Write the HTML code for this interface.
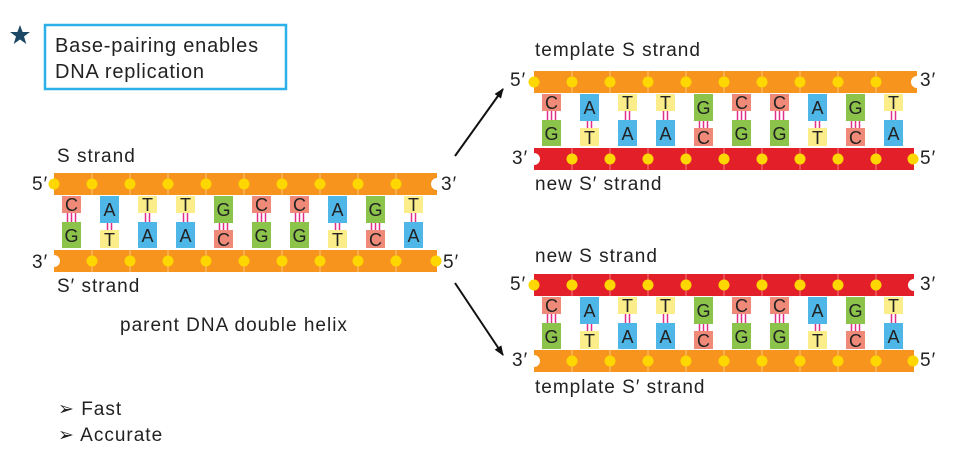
<!DOCTYPE html>
<html><head><meta charset="utf-8"><style>
html,body{margin:0;padding:0;background:#fff;}
svg{display:block;font-family:"Liberation Sans",sans-serif;}
.l{font-size:19px;fill:#222;letter-spacing:1px;}
.b{font-size:18px;fill:#222;text-anchor:middle;}
.pk{stroke:#e0308a;stroke-width:1.5;fill:none;}
</style></head><body>
<svg width="976" height="450" viewBox="0 0 976 450" xmlns="http://www.w3.org/2000/svg">
<defs>
<marker id="ar" markerWidth="10" markerHeight="8" refX="9" refY="4" orient="auto" markerUnits="userSpaceOnUse"><path d="M0,0 L10,4 L0,8 z" fill="#111"/></marker>
</defs>
<polygon points="20,25 22.6,32 30,32 24,36.5 26.3,44 20,39.5 13.7,44 16,36.5 10,32 17.4,32" fill="#1b4965"/>
<rect x="45" y="25" width="241" height="64" fill="none" stroke="#2bb0e8" stroke-width="2.5"/>
<text x="55" y="52" style="font-size:20px;fill:#222;letter-spacing:0.8px">Base-pairing enables</text>
<text x="55" y="78" style="font-size:20px;fill:#222;letter-spacing:0.8px">DNA replication</text>

<text class="l" x="57" y="162">S strand</text>
<text class="l" x="32" y="190">5′</text><text class="l" x="441" y="190">3′</text>
<text class="l" x="32" y="268">3′</text><text class="l" x="443" y="268">5′</text>
<text class="l" x="57" y="292">S′ strand</text>
<text class="l" x="120" y="331">parent DNA double helix</text>

<text class="l" x="535" y="56">template S strand</text>
<text class="l" x="510" y="86">5′</text><text class="l" x="920" y="86">3′</text>
<text class="l" x="512" y="164">3′</text><text class="l" x="920" y="164">5′</text>
<text class="l" x="535" y="190">new S′ strand</text>

<text class="l" x="535" y="262">new S strand</text>
<text class="l" x="510" y="290">5′</text><text class="l" x="920" y="290">3′</text>
<text class="l" x="512" y="366">3′</text><text class="l" x="920" y="366">5′</text>
<text class="l" x="535" y="393">template S′ strand</text>

<text class="l" x="58" y="415">➢ Fast</text>
<text class="l" x="58" y="441">➢ Accurate</text>

<line x1="455" y1="156" x2="503" y2="89" stroke="#111" stroke-width="2" marker-end="url(#ar)"/>
<line x1="455" y1="283" x2="503" y2="355" stroke="#111" stroke-width="2" marker-end="url(#ar)"/>

<!-- helix 1 -->
<g transform="translate(54,173)">
<g fill="#f7941d"><path d="M0,0 H383 V5 A6,6 0 0 0 383,17 V22 H0 Z"/></g>
<g fill="#f7941d"><path d="M0,77 H383 V99 H0 V94 A6,6 0 0 0 0,82 Z"/></g>
<g stroke="#fbc47a" stroke-width="1"><line x1="38" y1="0" x2="38" y2="22"/><line x1="76" y1="0" x2="76" y2="22"/><line x1="114" y1="0" x2="114" y2="22"/><line x1="152" y1="0" x2="152" y2="22"/><line x1="190" y1="0" x2="190" y2="22"/><line x1="228" y1="0" x2="228" y2="22"/><line x1="266" y1="0" x2="266" y2="22"/><line x1="304" y1="0" x2="304" y2="22"/><line x1="342" y1="0" x2="342" y2="22"/>
<line x1="38" y1="77" x2="38" y2="99"/><line x1="76" y1="77" x2="76" y2="99"/><line x1="114" y1="77" x2="114" y2="99"/><line x1="152" y1="77" x2="152" y2="99"/><line x1="190" y1="77" x2="190" y2="99"/><line x1="228" y1="77" x2="228" y2="99"/><line x1="266" y1="77" x2="266" y2="99"/><line x1="304" y1="77" x2="304" y2="99"/><line x1="342" y1="77" x2="342" y2="99"/></g>
<g fill="#ffd700"><circle cx="0" cy="11" r="5.5"/><circle cx="38" cy="11" r="5.5"/><circle cx="76" cy="11" r="5.5"/><circle cx="114" cy="11" r="5.5"/><circle cx="152" cy="11" r="5.5"/><circle cx="190" cy="11" r="5.5"/><circle cx="228" cy="11" r="5.5"/><circle cx="266" cy="11" r="5.5"/><circle cx="304" cy="11" r="5.5"/><circle cx="342" cy="11" r="5.5"/>
<circle cx="38" cy="88" r="5.5"/><circle cx="76" cy="88" r="5.5"/><circle cx="114" cy="88" r="5.5"/><circle cx="152" cy="88" r="5.5"/><circle cx="190" cy="88" r="5.5"/><circle cx="228" cy="88" r="5.5"/><circle cx="266" cy="88" r="5.5"/><circle cx="304" cy="88" r="5.5"/><circle cx="342" cy="88" r="5.5"/><circle cx="382" cy="88" r="5.5"/></g>
<path class="pk" d="M13.5,40V49M17.5,40V49M21.5,40V49 M53.5,50V57M57.5,50V57 M91.5,40V49M95.5,40V49 M129.5,40V49M133.5,40V49 M165.5,50V57M169.5,50V57M173.5,50V57 M203.5,40V49M207.5,40V49M211.5,40V49 M241.5,40V49M245.5,40V49M249.5,40V49 M281.5,50V57M285.5,50V57 M317.5,50V57M321.5,50V57M325.5,50V57 M357.5,40V49M361.5,40V49"/>
<rect x="8" y="23" width="19" height="17" fill="#f08a78"/><rect x="46" y="23" width="19" height="27" fill="#4fb6e8"/><rect x="84" y="23" width="19" height="17" fill="#fbee8a"/><rect x="122" y="23" width="19" height="17" fill="#fbee8a"/><rect x="160" y="23" width="19" height="27" fill="#8cc34a"/><rect x="198" y="23" width="19" height="17" fill="#f08a78"/><rect x="236" y="23" width="19" height="17" fill="#f08a78"/><rect x="274" y="23" width="19" height="27" fill="#4fb6e8"/><rect x="312" y="23" width="19" height="27" fill="#8cc34a"/><rect x="350" y="23" width="19" height="17" fill="#fbee8a"/>
<rect x="8" y="49" width="19" height="26" fill="#8cc34a"/><rect x="46" y="57" width="19" height="18" fill="#fbee8a"/><rect x="84" y="49" width="19" height="26" fill="#4fb6e8"/><rect x="122" y="49" width="19" height="26" fill="#4fb6e8"/><rect x="160" y="57" width="19" height="18" fill="#f08a78"/><rect x="198" y="49" width="19" height="26" fill="#8cc34a"/><rect x="236" y="49" width="19" height="26" fill="#8cc34a"/><rect x="274" y="57" width="19" height="18" fill="#fbee8a"/><rect x="312" y="57" width="19" height="18" fill="#f08a78"/><rect x="350" y="49" width="19" height="26" fill="#4fb6e8"/>
<text class="b" x="17.5" y="38">C</text><text class="b" x="55.5" y="43">A</text><text class="b" x="93.5" y="38">T</text><text class="b" x="131.5" y="38">T</text><text class="b" x="169.5" y="43">G</text><text class="b" x="207.5" y="38">C</text><text class="b" x="245.5" y="38">C</text><text class="b" x="283.5" y="43">A</text><text class="b" x="321.5" y="43">G</text><text class="b" x="359.5" y="38">T</text>
<text class="b" x="17.5" y="69">G</text><text class="b" x="55.5" y="73">T</text><text class="b" x="93.5" y="69">A</text><text class="b" x="131.5" y="69">A</text><text class="b" x="169.5" y="73">C</text><text class="b" x="207.5" y="69">G</text><text class="b" x="245.5" y="69">G</text><text class="b" x="283.5" y="73">T</text><text class="b" x="321.5" y="73">C</text><text class="b" x="359.5" y="69">A</text>
</g>

<!-- helix 2 -->
<g transform="translate(534,71)">
<g fill="#f7941d"><path d="M0,0 H383 V5 A6,6 0 0 0 383,17 V22 H0 Z"/></g>
<g fill="#e3202a"><path d="M0,77 H380 V99 H0 V94 A6,6 0 0 0 0,82 Z"/></g>
<g stroke="#fbc47a" stroke-width="1"><line x1="38" y1="0" x2="38" y2="22"/><line x1="76" y1="0" x2="76" y2="22"/><line x1="114" y1="0" x2="114" y2="22"/><line x1="152" y1="0" x2="152" y2="22"/><line x1="190" y1="0" x2="190" y2="22"/><line x1="228" y1="0" x2="228" y2="22"/><line x1="266" y1="0" x2="266" y2="22"/><line x1="304" y1="0" x2="304" y2="22"/><line x1="342" y1="0" x2="342" y2="22"/></g>
<g stroke="#f07a80" stroke-width="1"><line x1="38" y1="77" x2="38" y2="99"/><line x1="76" y1="77" x2="76" y2="99"/><line x1="114" y1="77" x2="114" y2="99"/><line x1="152" y1="77" x2="152" y2="99"/><line x1="190" y1="77" x2="190" y2="99"/><line x1="228" y1="77" x2="228" y2="99"/><line x1="266" y1="77" x2="266" y2="99"/><line x1="304" y1="77" x2="304" y2="99"/><line x1="342" y1="77" x2="342" y2="99"/></g>
<g fill="#ffd700"><circle cx="0" cy="11" r="5.5"/><circle cx="38" cy="11" r="5.5"/><circle cx="76" cy="11" r="5.5"/><circle cx="114" cy="11" r="5.5"/><circle cx="152" cy="11" r="5.5"/><circle cx="190" cy="11" r="5.5"/><circle cx="228" cy="11" r="5.5"/><circle cx="266" cy="11" r="5.5"/><circle cx="304" cy="11" r="5.5"/><circle cx="342" cy="11" r="5.5"/>
<circle cx="38" cy="88" r="5.5"/><circle cx="76" cy="88" r="5.5"/><circle cx="114" cy="88" r="5.5"/><circle cx="152" cy="88" r="5.5"/><circle cx="190" cy="88" r="5.5"/><circle cx="228" cy="88" r="5.5"/><circle cx="266" cy="88" r="5.5"/><circle cx="304" cy="88" r="5.5"/><circle cx="342" cy="88" r="5.5"/><circle cx="379" cy="88" r="5.5"/></g>
<path class="pk" d="M13.5,40V49M17.5,40V49M21.5,40V49 M53.5,50V57M57.5,50V57 M91.5,40V49M95.5,40V49 M129.5,40V49M133.5,40V49 M165.5,50V57M169.5,50V57M173.5,50V57 M203.5,40V49M207.5,40V49M211.5,40V49 M241.5,40V49M245.5,40V49M249.5,40V49 M281.5,50V57M285.5,50V57 M317.5,50V57M321.5,50V57M325.5,50V57 M357.5,40V49M361.5,40V49"/>
<rect x="8" y="23" width="19" height="17" fill="#f08a78"/><rect x="46" y="23" width="19" height="27" fill="#4fb6e8"/><rect x="84" y="23" width="19" height="17" fill="#fbee8a"/><rect x="122" y="23" width="19" height="17" fill="#fbee8a"/><rect x="160" y="23" width="19" height="27" fill="#8cc34a"/><rect x="198" y="23" width="19" height="17" fill="#f08a78"/><rect x="236" y="23" width="19" height="17" fill="#f08a78"/><rect x="274" y="23" width="19" height="27" fill="#4fb6e8"/><rect x="312" y="23" width="19" height="27" fill="#8cc34a"/><rect x="350" y="23" width="19" height="17" fill="#fbee8a"/>
<rect x="8" y="49" width="19" height="26" fill="#8cc34a"/><rect x="46" y="57" width="19" height="18" fill="#fbee8a"/><rect x="84" y="49" width="19" height="26" fill="#4fb6e8"/><rect x="122" y="49" width="19" height="26" fill="#4fb6e8"/><rect x="160" y="57" width="19" height="18" fill="#f08a78"/><rect x="198" y="49" width="19" height="26" fill="#8cc34a"/><rect x="236" y="49" width="19" height="26" fill="#8cc34a"/><rect x="274" y="57" width="19" height="18" fill="#fbee8a"/><rect x="312" y="57" width="19" height="18" fill="#f08a78"/><rect x="350" y="49" width="19" height="26" fill="#4fb6e8"/>
<text class="b" x="17.5" y="38">C</text><text class="b" x="55.5" y="43">A</text><text class="b" x="93.5" y="38">T</text><text class="b" x="131.5" y="38">T</text><text class="b" x="169.5" y="43">G</text><text class="b" x="207.5" y="38">C</text><text class="b" x="245.5" y="38">C</text><text class="b" x="283.5" y="43">A</text><text class="b" x="321.5" y="43">G</text><text class="b" x="359.5" y="38">T</text>
<text class="b" x="17.5" y="69">G</text><text class="b" x="55.5" y="73">T</text><text class="b" x="93.5" y="69">A</text><text class="b" x="131.5" y="69">A</text><text class="b" x="169.5" y="73">C</text><text class="b" x="207.5" y="69">G</text><text class="b" x="245.5" y="69">G</text><text class="b" x="283.5" y="73">T</text><text class="b" x="321.5" y="73">C</text><text class="b" x="359.5" y="69">A</text>
</g>

<!-- helix 3 -->
<g transform="translate(534,274)">
<g fill="#e3202a"><path d="M0,0 H380 V5 A6,6 0 0 0 380,17 V22 H0 Z"/></g>
<g fill="#f7941d"><path d="M0,76 H380 V98 H0 V93 A6,6 0 0 0 0,81 Z"/></g>
<g stroke="#f07a80" stroke-width="1"><line x1="38" y1="0" x2="38" y2="22"/><line x1="76" y1="0" x2="76" y2="22"/><line x1="114" y1="0" x2="114" y2="22"/><line x1="152" y1="0" x2="152" y2="22"/><line x1="190" y1="0" x2="190" y2="22"/><line x1="228" y1="0" x2="228" y2="22"/><line x1="266" y1="0" x2="266" y2="22"/><line x1="304" y1="0" x2="304" y2="22"/><line x1="342" y1="0" x2="342" y2="22"/></g>
<g stroke="#fbc47a" stroke-width="1"><line x1="38" y1="76" x2="38" y2="98"/><line x1="76" y1="76" x2="76" y2="98"/><line x1="114" y1="76" x2="114" y2="98"/><line x1="152" y1="76" x2="152" y2="98"/><line x1="190" y1="76" x2="190" y2="98"/><line x1="228" y1="76" x2="228" y2="98"/><line x1="266" y1="76" x2="266" y2="98"/><line x1="304" y1="76" x2="304" y2="98"/><line x1="342" y1="76" x2="342" y2="98"/></g>
<g fill="#ffd700"><circle cx="0" cy="11" r="5.5"/><circle cx="38" cy="11" r="5.5"/><circle cx="76" cy="11" r="5.5"/><circle cx="114" cy="11" r="5.5"/><circle cx="152" cy="11" r="5.5"/><circle cx="190" cy="11" r="5.5"/><circle cx="228" cy="11" r="5.5"/><circle cx="266" cy="11" r="5.5"/><circle cx="304" cy="11" r="5.5"/><circle cx="342" cy="11" r="5.5"/>
<circle cx="38" cy="87" r="5.5"/><circle cx="76" cy="87" r="5.5"/><circle cx="114" cy="87" r="5.5"/><circle cx="152" cy="87" r="5.5"/><circle cx="190" cy="87" r="5.5"/><circle cx="228" cy="87" r="5.5"/><circle cx="266" cy="87" r="5.5"/><circle cx="304" cy="87" r="5.5"/><circle cx="342" cy="87" r="5.5"/><circle cx="379" cy="87" r="5.5"/></g>
<path class="pk" d="M13.5,40V49M17.5,40V49M21.5,40V49 M53.5,50V57M57.5,50V57 M91.5,40V49M95.5,40V49 M129.5,40V49M133.5,40V49 M165.5,50V57M169.5,50V57M173.5,50V57 M203.5,40V49M207.5,40V49M211.5,40V49 M241.5,40V49M245.5,40V49M249.5,40V49 M281.5,50V57M285.5,50V57 M317.5,50V57M321.5,50V57M325.5,50V57 M357.5,40V49M361.5,40V49"/>
<rect x="8" y="23" width="19" height="17" fill="#f08a78"/><rect x="46" y="23" width="19" height="27" fill="#4fb6e8"/><rect x="84" y="23" width="19" height="17" fill="#fbee8a"/><rect x="122" y="23" width="19" height="17" fill="#fbee8a"/><rect x="160" y="23" width="19" height="27" fill="#8cc34a"/><rect x="198" y="23" width="19" height="17" fill="#f08a78"/><rect x="236" y="23" width="19" height="17" fill="#f08a78"/><rect x="274" y="23" width="19" height="27" fill="#4fb6e8"/><rect x="312" y="23" width="19" height="27" fill="#8cc34a"/><rect x="350" y="23" width="19" height="17" fill="#fbee8a"/>
<rect x="8" y="49" width="19" height="26" fill="#8cc34a"/><rect x="46" y="57" width="19" height="18" fill="#fbee8a"/><rect x="84" y="49" width="19" height="26" fill="#4fb6e8"/><rect x="122" y="49" width="19" height="26" fill="#4fb6e8"/><rect x="160" y="57" width="19" height="18" fill="#f08a78"/><rect x="198" y="49" width="19" height="26" fill="#8cc34a"/><rect x="236" y="49" width="19" height="26" fill="#8cc34a"/><rect x="274" y="57" width="19" height="18" fill="#fbee8a"/><rect x="312" y="57" width="19" height="18" fill="#f08a78"/><rect x="350" y="49" width="19" height="26" fill="#4fb6e8"/>
<text class="b" x="17.5" y="38">C</text><text class="b" x="55.5" y="43">A</text><text class="b" x="93.5" y="38">T</text><text class="b" x="131.5" y="38">T</text><text class="b" x="169.5" y="43">G</text><text class="b" x="207.5" y="38">C</text><text class="b" x="245.5" y="38">C</text><text class="b" x="283.5" y="43">A</text><text class="b" x="321.5" y="43">G</text><text class="b" x="359.5" y="38">T</text>
<text class="b" x="17.5" y="69">G</text><text class="b" x="55.5" y="73">T</text><text class="b" x="93.5" y="69">A</text><text class="b" x="131.5" y="69">A</text><text class="b" x="169.5" y="73">C</text><text class="b" x="207.5" y="69">G</text><text class="b" x="245.5" y="69">G</text><text class="b" x="283.5" y="73">T</text><text class="b" x="321.5" y="73">C</text><text class="b" x="359.5" y="69">A</text>
</g>
</svg>
</body></html>
